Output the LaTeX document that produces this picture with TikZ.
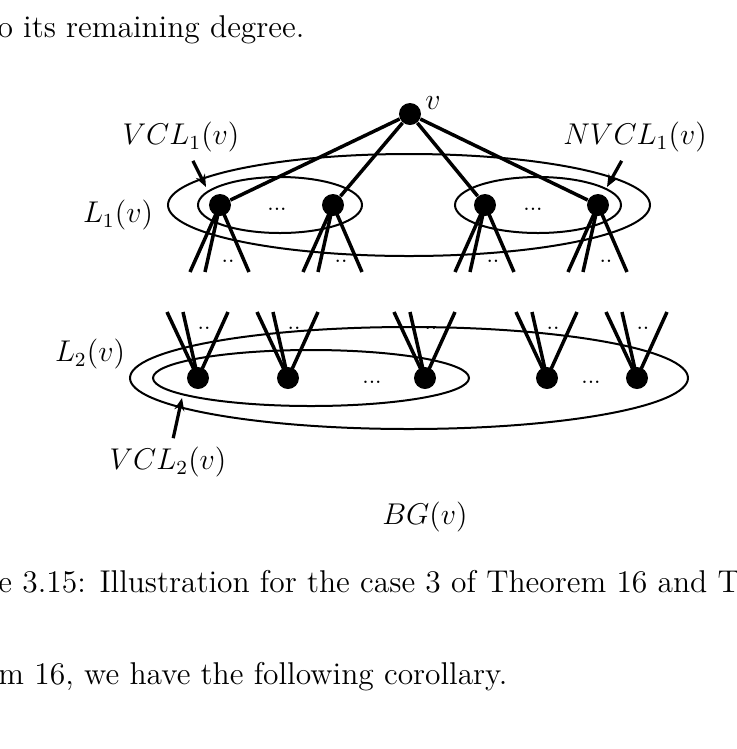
\documentclass[tikz,border=0pt]{standalone}
\usetikzlibrary{arrows.meta,calc}
\begin{document}
\begin{tikzpicture}[x=0.4pt,y=-0.4pt,
  every node/.style={font=\fontsize{12}{14.4}\selectfont},
  vtx/.style={circle,fill=black,inner sep=0pt,minimum size=8.8pt},
  edge/.style={line width=1.4pt},
  ring/.style={line width=0.8pt},
  pointer/.style={line width=1.3pt,-{Stealth[length=5pt,width=4pt]}},
  dotlbl/.style={font=\fontsize{9}{10}\selectfont,inner sep=0pt,anchor=base},
  txt/.style={anchor=base west,inner sep=0pt,font=\fontsize{12.6}{15}\selectfont}
]
\useasboundingbox (0,0) rectangle (737,749);
\clip (0,0) rectangle (737,749);

% surrounding text
\node[txt] (t1) at (-3,37) {o its remaining degree.};
\node[txt] (t2) at (-2,592) {e 3.15: Illustration for the case 3 of Theorem 16 and T};
\node[txt] (t3) at (-2,684) {m 16, we have the following corollary.};

% ellipses
\draw[ring] (409,205) ellipse [x radius=241, y radius=51];
\draw[ring] (280,205) ellipse [x radius=82, y radius=28];
\draw[ring] (538,205) ellipse [x radius=83, y radius=28];
\draw[ring] (409,378) ellipse [x radius=279, y radius=51];
\draw[ring] (311,378) ellipse [x radius=158, y radius=28];

% vertices
\node[vtx] (v) at (410,114) {};
\node[vtx] (a1) at (220,205) {};
\node[vtx] (a2) at (333,205) {};
\node[vtx] (a3) at (485,205) {};
\node[vtx] (a4) at (598,205) {};
\node[vtx] (b1) at (198,378) {};
\node[vtx] (b2) at (288,378) {};
\node[vtx] (b3) at (425,378) {};
\node[vtx] (b4) at (547,378) {};
\node[vtx] (b5) at (637,378) {};

\foreach \n in {a1,a2,a3,a4} \draw[edge] (v) -- (\n);

% stubs of level 1
\foreach \n in {a1,a2,a3,a4} {
  \coordinate (\n-p) at ($(\n)+(-30,67)$);
  \coordinate (\n-q) at ($(\n)+(-15,67)$);
  \coordinate (\n-r) at ($(\n)+(29,67)$);
  \draw[edge] (\n.center) -- (\n-p);
  \draw[edge] (\n.center) -- (\n-q);
  \draw[edge] (\n.center) -- (\n-r);
  \node[dotlbl] (\n-d) at ($(\n)+(8,57)$) {..};
}
% stubs of level 2
\foreach \n in {b1,b2,b3,b4,b5} {
  \coordinate (\n-p) at ($(\n)+(-31,-66)$);
  \coordinate (\n-q) at ($(\n)+(-15,-66)$);
  \coordinate (\n-r) at ($(\n)+(30,-66)$);
  \draw[edge] (\n.center) -- (\n-p);
  \draw[edge] (\n.center) -- (\n-q);
  \draw[edge] (\n.center) -- (\n-r);
  \node[dotlbl] (\n-d) at ($(\n)+(6,-49)$) {..};
}

% dots inside sets
\node[dotlbl] (d1) at (277,210) {...};
\node[dotlbl] (d2) at (533,210) {...};
\node[dotlbl] (d3) at (372,383) {...};
\node[dotlbl] (d4) at (591,383) {...};

% labels
\node (lv) at (433,103) {$v$};
\node (lvcl1) at (181,137) {$VCL_1(v)$};
\node (lnvcl1) at (635,137) {$NVCL_1(v)$};
\node (ll1) at (118,215) {$L_1(v)$};
\node (ll2) at (90,354) {$L_2(v)$};
\node (lvcl2) at (168,462) {$VCL_2(v)$};
\node (lbg) at (425,517) {$BG(v)$};

% pointers
\coordinate (e1) at (206,187);
\coordinate (e2) at (607,187);
\coordinate (e3) at (182,398);
\draw[pointer] (lvcl1) -- (e1);
\draw[pointer] (lnvcl1) -- (e2);
\draw[pointer] (lvcl2) -- (e3);
\end{tikzpicture}
\end{document}
